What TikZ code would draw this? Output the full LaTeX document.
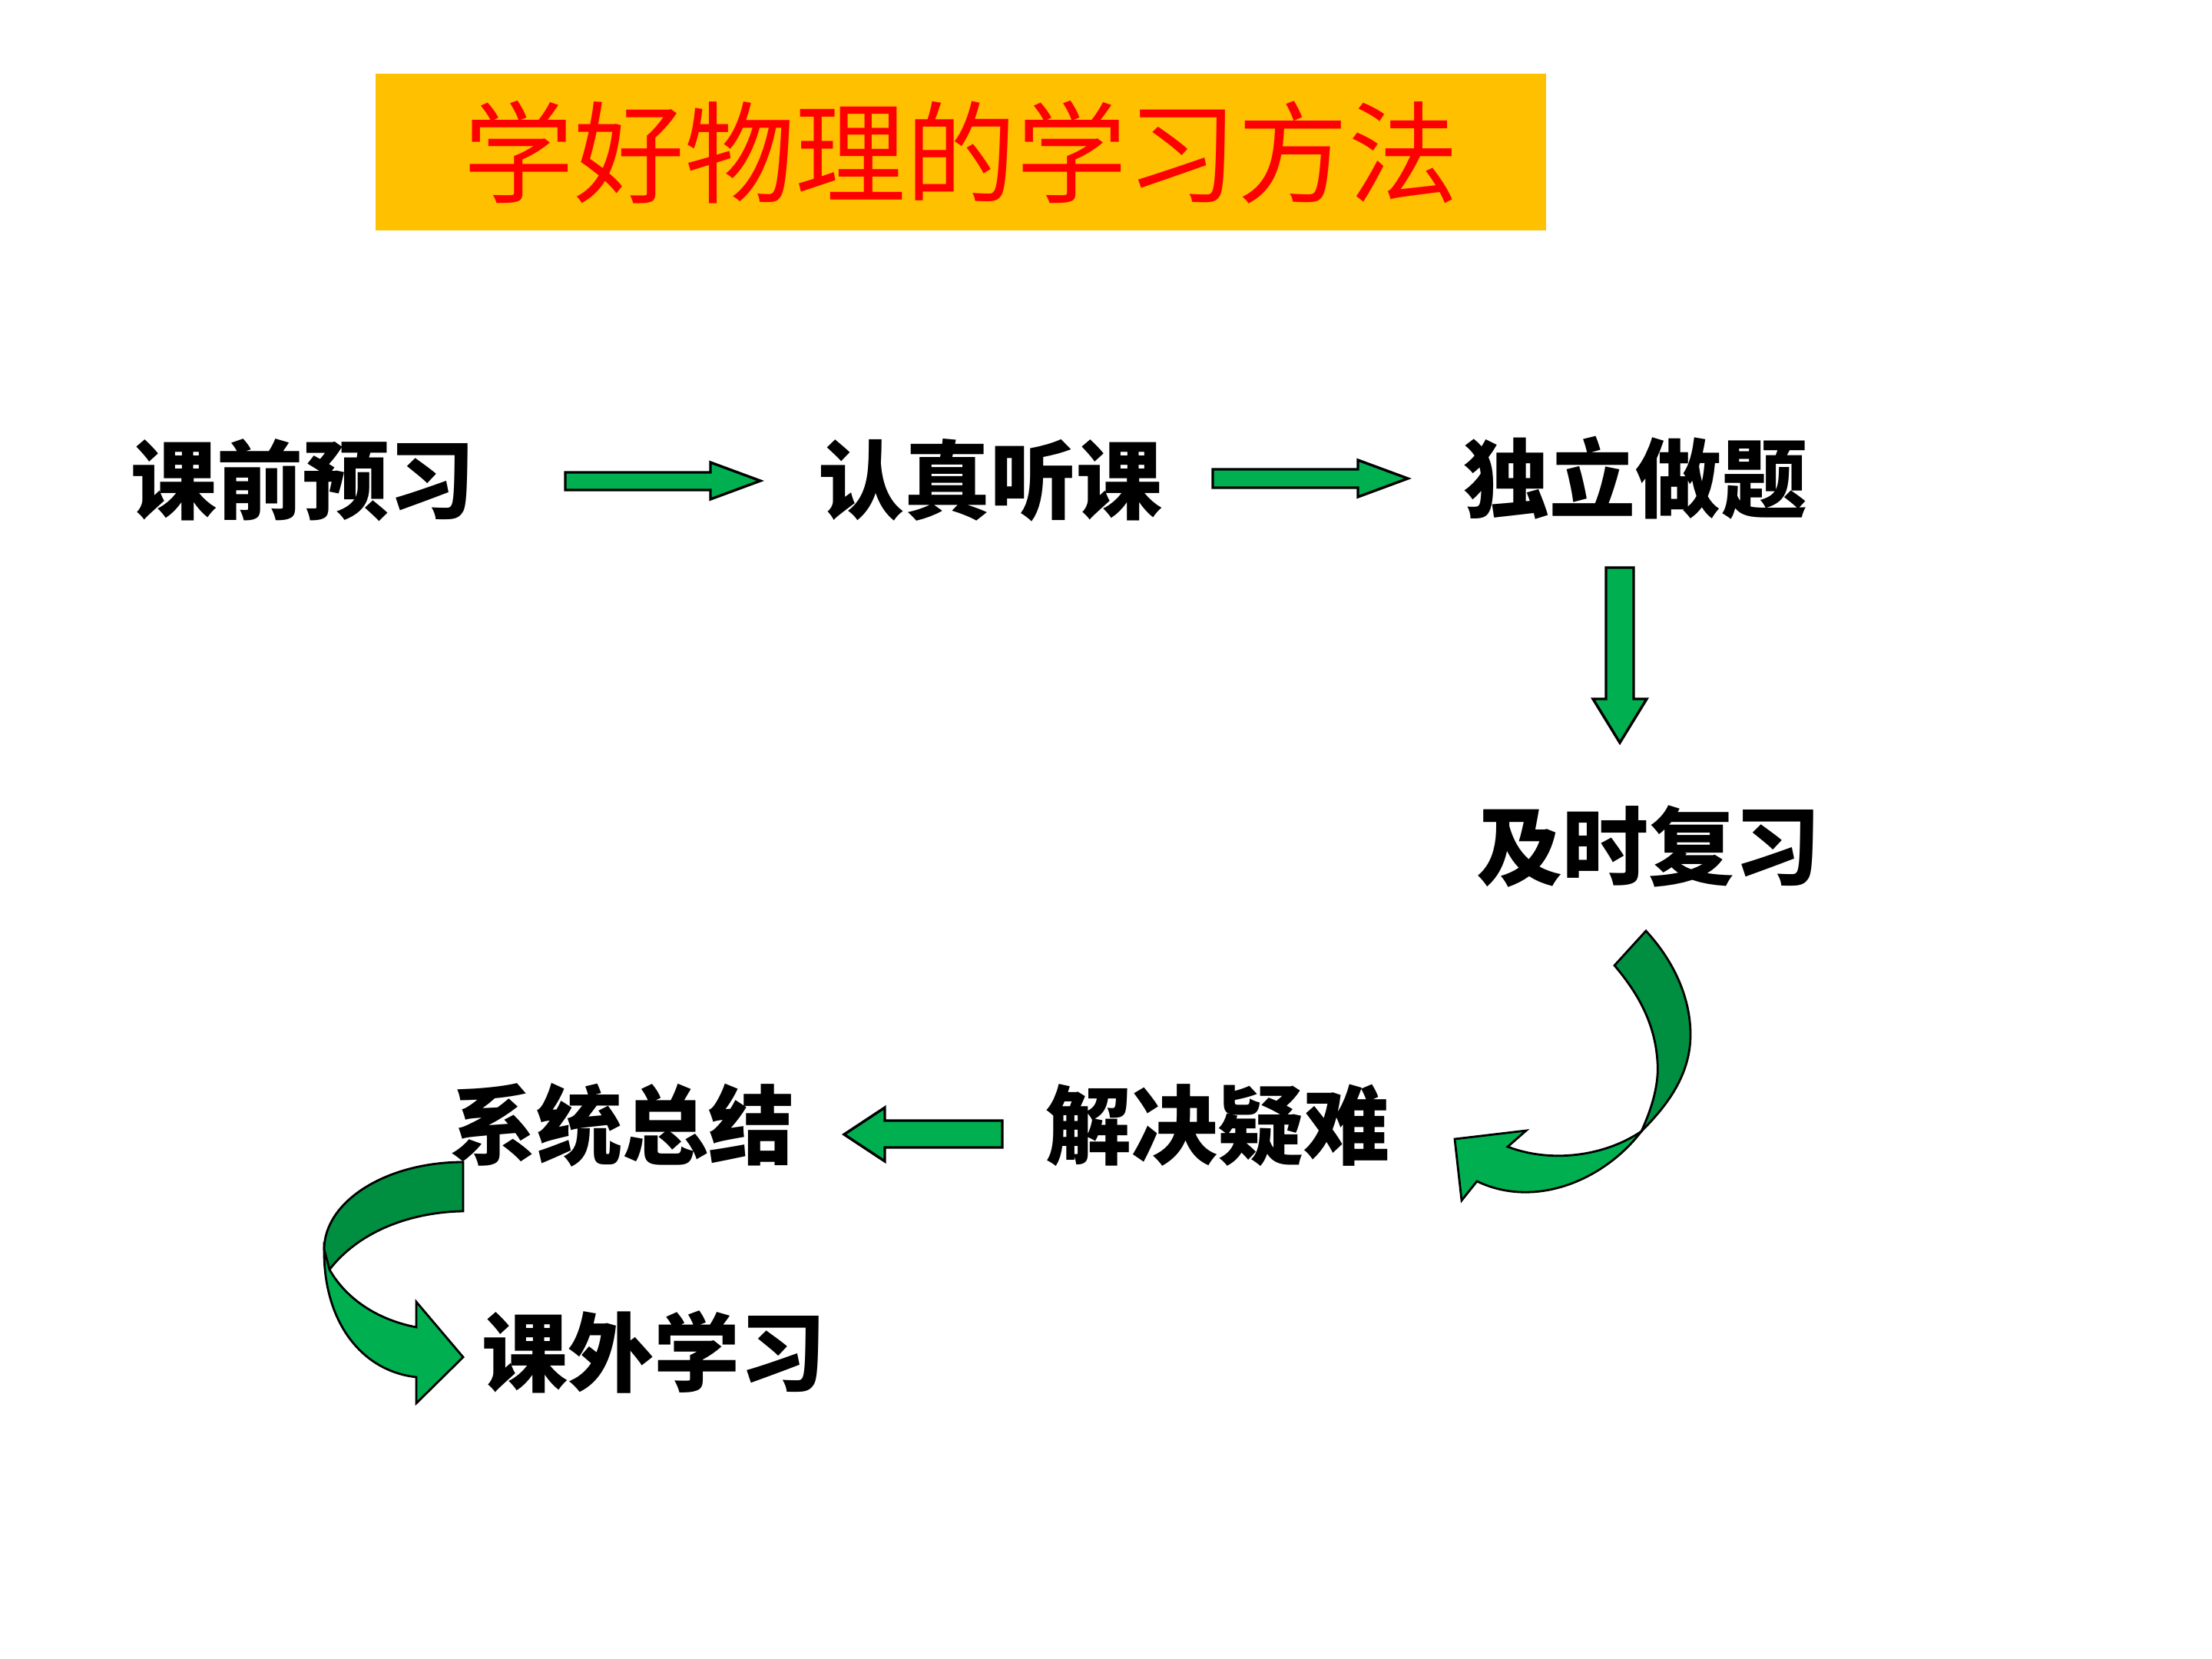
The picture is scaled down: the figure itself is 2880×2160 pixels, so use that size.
\documentclass[tikz,border=0pt]{standalone}
\usepackage{fontspec}
\newfontfamily\cjk{Noto Sans CJK SC}

\definecolor{titleyellow}{HTML}{FFC000}
\definecolor{arrowgreen}{HTML}{00B050}
\definecolor{ribbongreen}{HTML}{008E40}

\tikzset{
  stage/.style={font=\cjk\bfseries\fontsize{28pt}{30pt}\selectfont, inner sep=0pt},
  titlebox/.style={fill=titleyellow, text=red, font=\cjk\fontsize{36pt}{38pt}\selectfont,
    minimum width=381pt, minimum height=51pt, inner sep=0pt},
  blockarrow/.style={draw=black, fill=arrowgreen, line width=0.85pt},
  ribbonlight/.style={draw=black, fill=arrowgreen, line width=0.7pt},
  ribbondark/.style={draw=black, fill=ribbongreen, line width=0.7pt}
}

\begin{document}
\begin{tikzpicture}[x=0.25pt, y=-0.25pt]
    \useasboundingbox[fill=white] (0,0) rectangle (2880,2160);

    % title
    \node[titlebox] (title) at (1251,198) {学好物理的学习方法};

    % stages
    \node[stage] (pre) at (394,625) {课前预习};
    \node[stage] (lis) at (1289,625) {认真听课};
    \node[stage] (ind) at (2129,622) {独立做题};
    \node[stage] (rev) at (2146,1102) {及时复习};
    \node[stage] (sol) at (1585,1465) {解决疑难};
    \node[stage] (sum) at (810,1465) {系统总结};
    \node[stage] (ext) at (851,1760) {课外学习};

    % straight arrows
    \draw[blockarrow] (736,615) -- (925,615) -- (925,602) -- (990,626) -- (925,650) -- (925,638) -- (736,638) -- cycle;
    \draw[blockarrow] (1579,611) -- (1768,611) -- (1768,599) -- (1833,623) -- (1768,647) -- (1768,635) -- (1579,635) -- cycle;
    \draw[blockarrow] (2091,739) -- (2127,739) -- (2127,910) -- (2144,910) -- (2109,967) -- (2074,910) -- (2091,910) -- cycle;
    \draw[blockarrow] (1305,1459) -- (1152,1459) -- (1152,1442) -- (1099,1477) -- (1152,1512) -- (1152,1494) -- (1305,1494) -- cycle;

    % curved arrow, review -> solve
    \filldraw[ribbondark] (2143,1212) .. controls (2180,1252) and (2201,1300) .. (2201,1347)
        .. controls (2201,1400) and (2170,1440) .. (2137,1473)
        .. controls (2152,1440) and (2160,1410) .. (2158,1383)
        .. controls (2155,1330) and (2130,1290) .. (2102,1257) -- cycle;
    \filldraw[ribbonlight] (2137,1473) .. controls (2090,1535) and (2000,1575) .. (1923,1538)
        -- (1903,1563) -- (1894,1483) -- (1987,1472) -- (1963,1493)
        .. controls (2020,1515) and (2090,1505) .. (2137,1473) -- cycle;

    % curved arrow, summary -> extra study
    \filldraw[ribbondark] (603,1513) .. controls (503,1513) and (422,1564) .. (422,1627)
        -- (429,1653) .. controls (470,1600) and (540,1578) .. (603,1577) -- cycle;
    \filldraw[ribbonlight] (422,1627) .. controls (421,1720) and (470,1785) .. (542,1793)
        -- (542,1827) -- (603,1767) -- (542,1695) -- (542,1728)
        .. controls (490,1718) and (450,1690) .. (429,1653) -- cycle;
\end{tikzpicture}
\end{document}
